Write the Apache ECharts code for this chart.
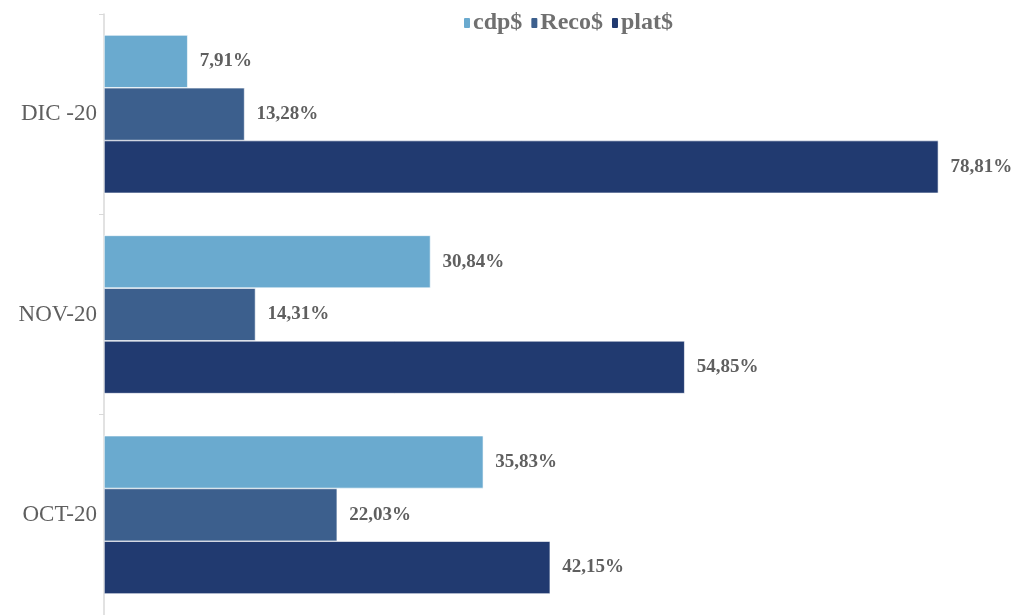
<!DOCTYPE html>
<html lang="es">
<head>
  <meta charset="UTF-8">
  <title>cdp$ Reco$ plat$</title>
  <script src="https://cdn.jsdelivr.net/npm/echarts@6/dist/echarts.min.js"></script>
  <style>
    html, body { margin: 0; padding: 0; background: #fff; }
    #chart { width: 1012px; height: 615px; }
  </style>
</head>
<body>
  <div id="chart"></div>
  <script>
    // categorias (de abajo hacia arriba)
    var aMeses = ['OCT-20', 'NOV-20', 'DIC -20'];
    var aCdp = [35.83, 30.84, 7.91];
    var aReco = [22.03, 14.31, 13.28];
    var aPlat = [42.15, 54.85, 78.81];

    var sFont = '"Liberation Serif", "DejaVu Serif", serif';
    var sGris = '#5f5f5f';

    function fmt(p) {
      return p.value.toFixed(2).replace('.', ',') + '%';
    }

    function serie(nombre, datos, color) {
      return {
        name: nombre,
        type: 'bar',
        data: datos,
        barGap: '0%',
        barCategoryGap: '21%',
        itemStyle: { color: color, borderColor: '#ffffff', borderWidth: 0.6 },
        label: {
          show: true,
          position: 'right',
          distance: 12,
          formatter: fmt,
          color: sGris,
          fontFamily: sFont,
          fontWeight: 'bold',
          fontSize: 19
        }
      };
    }

    var oChart = echarts.init(document.getElementById('chart'));
    var opt = {
      animation: false,
      legend: {
        data: ['cdp$', 'Reco$', 'plat$'],
        top: 6,
        left: 457,
        itemWidth: 8,
        itemHeight: 12,
        itemGap: 7,
        textStyle: { color: '#707070', fontFamily: sFont, fontWeight: 'bold', fontSize: 24, padding: [0, 0, 0, -3] }
      },
      grid: {
        left: 104,
        right: 61,
        top: 14,
        bottom: -5,
        containLabel: false
      },
      xAxis: {
        type: 'value',
        min: 0,
        max: 80,
        show: false
      },
      yAxis: {
        type: 'category',
        data: aMeses,
        axisLine: { show: true, lineStyle: { color: '#d9d9d9', width: 1.5 } },
        axisTick: { show: true, length: 5, lineStyle: { color: '#d9d9d9' } },
        axisLabel: { color: sGris, fontFamily: sFont, fontSize: 23, margin: 7 }
      },
      series: [
        serie('cdp$', aCdp, '#6aaacf'),
        serie('Reco$', aReco, '#3c5f8d'),
        serie('plat$', aPlat, '#213a70')
      ]
    };
    oChart.setOption(opt);
  </script>
</body>
</html>
